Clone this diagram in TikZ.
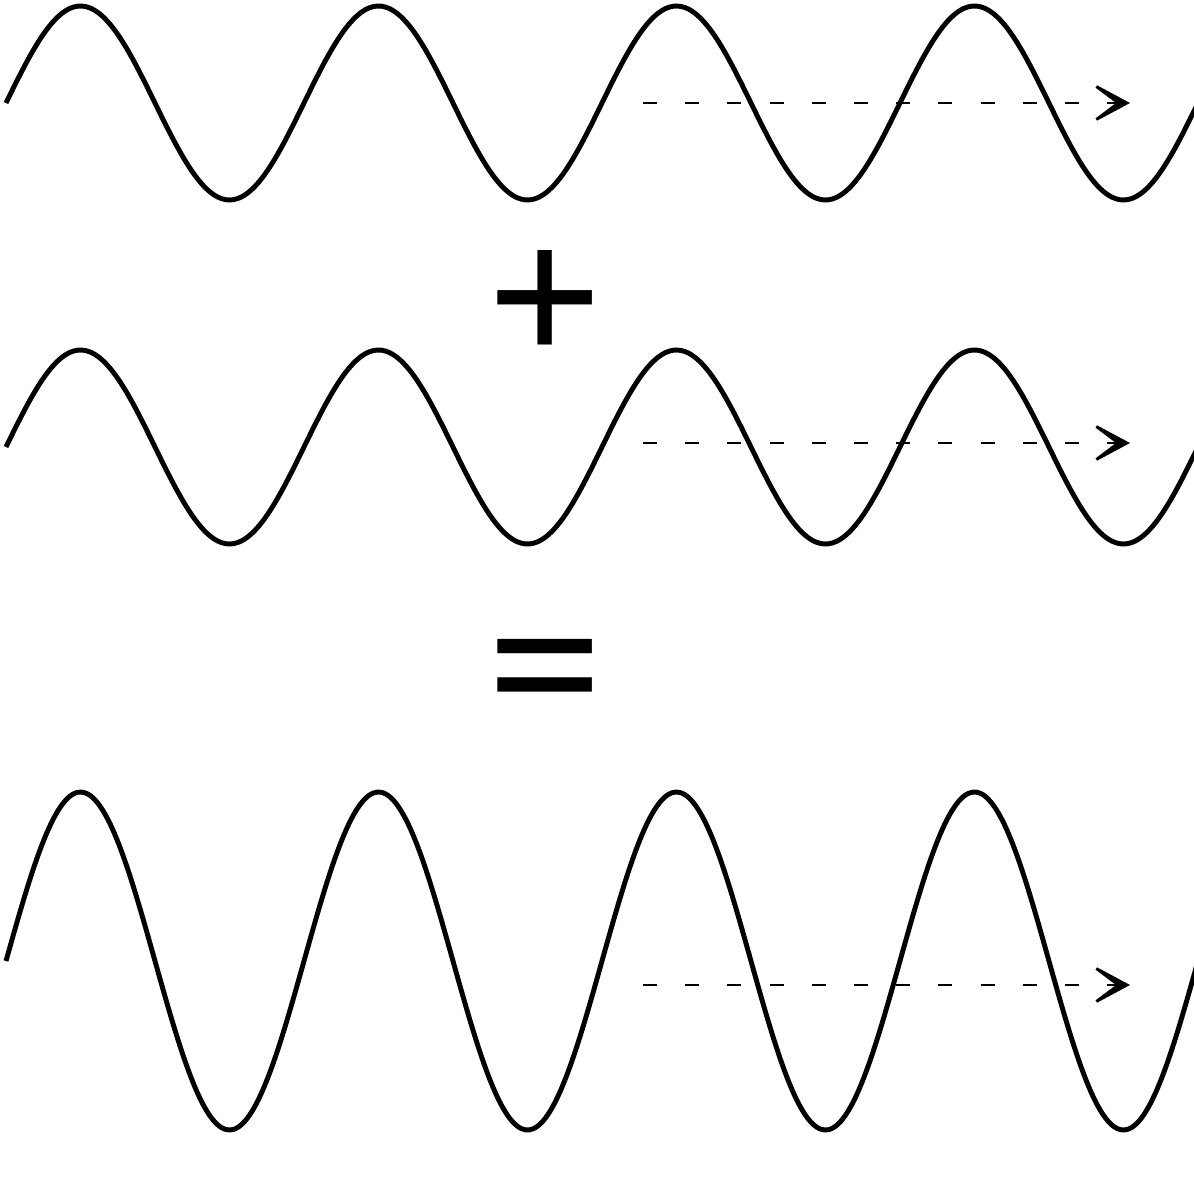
\documentclass[tikz,border=0pt]{standalone}
\usepackage{fontspec}
\setsansfont{TeX Gyre Heros}
\usetikzlibrary{arrows.meta}
\begin{document}
\begin{tikzpicture}[x=0.01cm,y=-0.01cm]
		\useasboundingbox (0,0) rectangle (1194,1200);
		\clip (0,0) rectangle (1194,1200);
		\coordinate (S1) at (643,103);
		\coordinate (E1) at (1130,103);
		\coordinate (S2) at (643,443);
		\coordinate (E2) at (1130,443);
		\coordinate (S3) at (643,985);
		\coordinate (E3) at (1130,985);

		\begin{scope}[line width=1.4pt,variable=\x,domain=6:1200,samples=300,smooth]
		    \draw plot ({\x},{103-97*sin(1.2081*(\x-6))});
		    \draw plot ({\x},{447-97*sin(1.2081*(\x-6))});
		    \draw plot ({\x},{961-169*sin(1.2081*(\x-6))});
		\end{scope}

		\begin{scope}[line width=0.8pt,dash pattern=on 4pt off 8pt,-{Stealth[length=14pt,width=15pt,inset=10pt]}]
		    \draw (S1) -- (E1);
		    \draw (S2) -- (E2);
		    \draw (S3) -- (E3);
		\end{scope}

		\node[font=\sffamily\fontsize{60}{64}\selectfont] (plus) at (545,300) {+};
		\node[font=\sffamily\fontsize{60}{64}\selectfont] (equals) at (545,679) {=};
	    \end{tikzpicture}
\end{document}
